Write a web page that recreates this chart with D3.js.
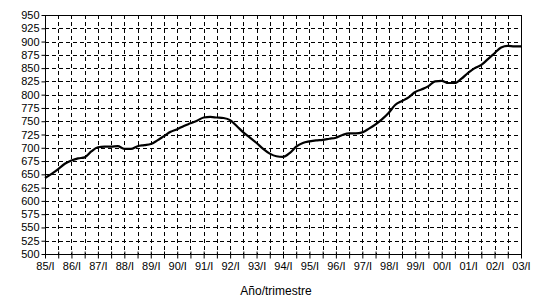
<!DOCTYPE html>
<html>
<head>
<meta charset="utf-8">
<script src="https://cdn.jsdelivr.net/npm/d3@7"></script>
<style>
  body { margin: 0; background: #fff; }
  text { font-family: "Liberation Sans", Arial, sans-serif; font-size: 11px; fill: #000; }
</style>
</head>
<body>
<div id="chart"></div>
<script>
// quarterly values, 85/I .. 03/I
var values = [643, 651, 660, 670, 676, 680, 682, 693, 701, 702, 702, 703,
              698, 698, 703, 705, 707, 714, 722, 730, 735, 741, 746, 751,
              757, 758, 757, 756, 752, 741, 729, 719, 709, 698, 689, 684,
              683, 690, 702, 709, 712, 714, 715, 717, 719, 724, 727, 727,
              729, 736, 744, 754, 766, 781, 788, 795, 805, 810, 816, 825,
              826, 822, 822, 830, 841, 850, 856, 867, 878, 889, 892, 891, 891];
var yearLabels = ["85/I","86/I","87/I","88/I","89/I","90/I","91/I","92/I","93/I",
                  "94/I","95/I","96/I","97/I","98/I","99/I","00/I","01/I","02/I","03/I"];
var yTicks = d3.range(500, 951, 25);

var margin = {top: 15, right: 20, bottom: 53, left: 45};
var width = 541 - margin.left - margin.right;
var height = 307 - margin.top - margin.bottom;

var x = d3.scaleLinear().domain([0, 72]).range([0, width]);
var y = d3.scaleLinear().domain([500, 950]).range([height, 0]);

var svg = d3.select("#chart").append("svg")
    .attr("width", 541)
    .attr("height", 307)
  .append("g")
    .attr("transform", "translate(" + margin.left + "," + margin.top + ")");

// dashed grid
var halfYears = d3.range(2, 72, 2);
svg.selectAll(".vgrid")
    .data(halfYears)
  .enter().append("line")
    .attr("x1", function(d) { return Math.round(x(d)) + 0.5; })
    .attr("x2", function(d) { return Math.round(x(d)) + 0.5; })
    .attr("y1", 0)
    .attr("y2", height)
    .attr("stroke", "#000")
    .attr("stroke-dasharray", "4,3");

svg.selectAll(".hgrid")
    .data(yTicks.slice(1, -1))
  .enter().append("line")
    .attr("x1", 0)
    .attr("x2", width)
    .attr("y1", function(d) { return Math.round(y(d)) + 0.5; })
    .attr("y2", function(d) { return Math.round(y(d)) + 0.5; })
    .attr("stroke", "#000")
    .attr("stroke-dasharray", "4,3");

// frame
svg.append("rect")
    .attr("x", 0.5)
    .attr("y", 0.5)
    .attr("width", width)
    .attr("height", height)
    .attr("fill", "none")
    .attr("stroke", "#000");

// y axis
var yAxis = d3.axisLeft(y).tickValues(yTicks).tickSize(4).tickPadding(2);
var gy = svg.append("g").attr("transform", "translate(0.5,0)").call(yAxis);
gy.select(".domain").remove();
gy.selectAll("text").style("font-size", "11px");

// x axis (tick every half year, label every year)
var xAxis = d3.axisBottom(x)
    .tickValues(d3.range(0, 73, 2))
    .tickSize(4)
    .tickPadding(4)
    .tickFormat(function(d) { return d % 4 == 0 ? yearLabels[d / 4] : ""; });
var gx = svg.append("g").attr("transform", "translate(0," + (height + 0.5) + ")").call(xAxis);
gx.select(".domain").remove();
gx.selectAll("line").attr("y1", -3);

// line
var line = d3.line()
    .x(function(d, i) { return x(i); })
    .y(function(d) { return y(d); })
    .curve(d3.curveMonotoneX);

svg.append("path")
    .datum(values)
    .attr("fill", "none")
    .attr("stroke", "#000")
    .attr("stroke-width", 2.2)
    .attr("stroke-linejoin", "round")
    .attr("d", line);

// axis title
svg.append("text")
    .attr("x", width / 2 - 7)
    .attr("y", height + 41)
    .attr("text-anchor", "middle")
    .style("font-size", "12px")
    .text("Año/trimestre");
</script>
</body>
</html>
